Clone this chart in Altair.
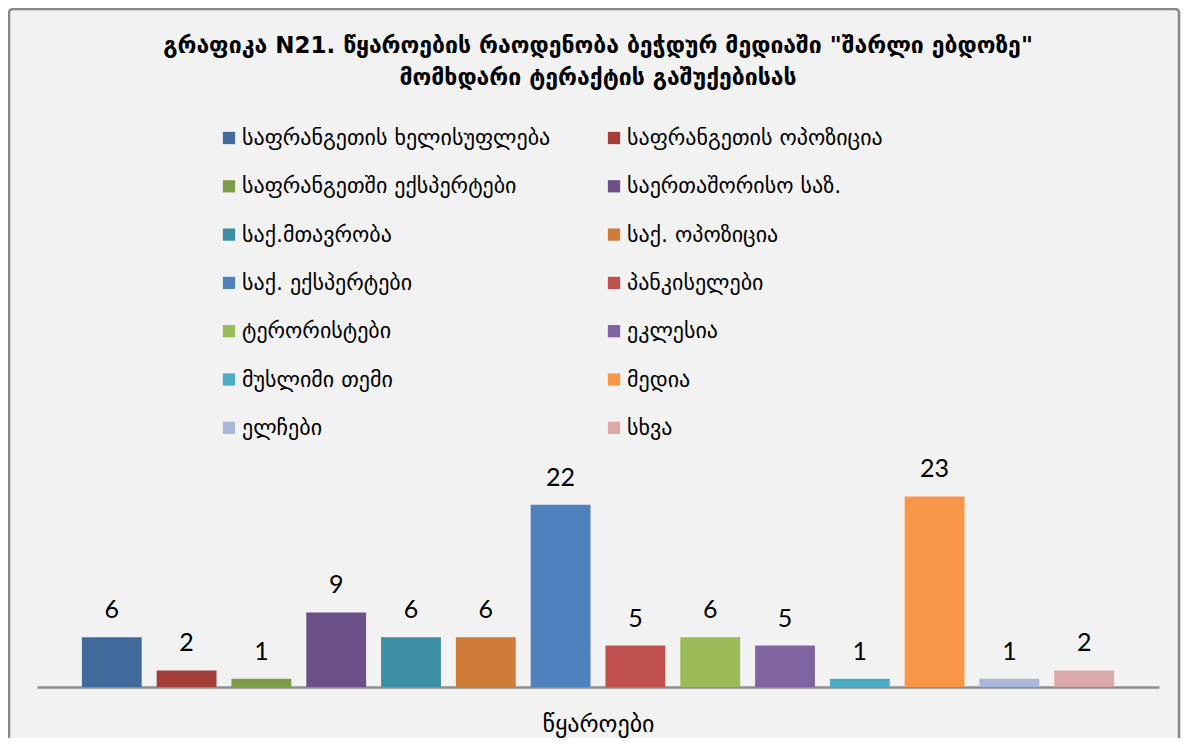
import altair as alt
import pandas as pd

sources = [
    "საფრანგეთის ხელისუფლება",
    "საფრანგეთის ოპოზიცია",
    "საფრანგეთში ექსპერტები",
    "საერთაშორისო საზ.",
    "საქ.მთავრობა",
    "საქ. ოპოზიცია",
    "საქ. ექსპერტები",
    "პანკისელები",
    "ტერორისტები",
    "ეკლესია",
    "მუსლიმი თემი",
    "მედია",
    "ელჩები",
    "სხვა",
]
counts = [6, 2, 1, 9, 6, 6, 22, 5, 6, 5, 1, 23, 1, 2]
colors = [
    "#416A9C", "#A33E3B", "#7E9B48", "#6A5087", "#3D8EA5", "#CE7C38",
    "#4F81BD", "#C0504D", "#9BBB59", "#8064A2", "#4BACC6", "#F79646",
    "#A9B8D9", "#DBA9A9",
]
title_lines = [
    "გრაფიკა N21. წყაროების რაოდენობა ბეჭდურ მედიაში \"შარლი ებდოზე\"",
    "მომხდარი ტერაქტის გაშუქებისას",
]
x_title = "წყაროები"

df = pd.DataFrame({"source": sources, "count": counts})

GEO = "DejaVu Sans"

x_enc = alt.X(
    "source:N",
    sort=sources,
    scale=alt.Scale(paddingInner=0.2, paddingOuter=0.6),
    axis=alt.Axis(
        labels=False, ticks=False, domainColor="#8c8c8c", domainWidth=2.5,
        title=x_title, titleFont=GEO, titleFontSize=24, titleFontWeight="normal",
        titleColor="black", titlePadding=25,
    ),
)
y_enc = alt.Y("count:Q", scale=alt.Scale(domain=[0, 69.6]), axis=None)

bars = alt.Chart(df).mark_bar().encode(
    x=x_enc,
    y=y_enc,
    color=alt.Color(
        "source:N",
        sort=sources,
        scale=alt.Scale(domain=sources, range=colors),
        legend=alt.Legend(
            title=None, orient="none", legendX=181, legendY=20, columns=2,
            direction="horizontal",
            columnPadding=52, rowPadding=26.3, symbolType="square", symbolSize=150,
            symbolStrokeWidth=0, labelFont=GEO, labelFontSize=22, labelColor="black",
            labelLimit=700, labelOffset=2, padding=0,
        ),
    ),
)

labels = alt.Chart(df).mark_text(
    font="Lato", fontSize=25, baseline="alphabetic", dy=-19, color="black"
).encode(x=alt.X("source:N", sort=sources), y=alt.Y("count:Q"), text="count:Q")

border = alt.Chart(alt.Data(values=[{"a": 1}])).mark_rect(
    fillOpacity=0, stroke="#888888", strokeWidth=2.5, cornerRadius=4
).encode(
    x=alt.value(-28), x2=alt.value(1142), y=alt.value(-98), y2=alt.value(700)
)

chart = alt.layer(border, bars, labels).properties(
    width=1122,
    height=580,
    title=alt.TitleParams(
        text=title_lines, font=GEO, fontSize=23, fontWeight="bold",
        anchor="middle", offset=18, dy=100, lineHeight=32, color="black",
    ),
    autosize=alt.AutoSizeParams(type="none"),
    padding={"left": 29, "top": 99, "right": 22, "bottom": 51},
    background="#f2f2f2",
).configure_view(stroke="transparent")

chart.save("out.html", embed_options={"renderer": "svg", "actions": False})
